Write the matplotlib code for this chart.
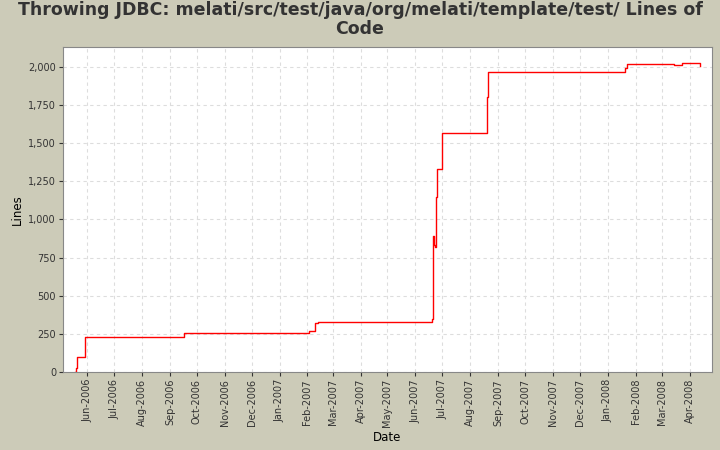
import matplotlib
matplotlib.use("Agg")
import matplotlib.pyplot as plt
import matplotlib.dates as mdates
import matplotlib.ticker as mticker
import pandas as pd

dates = ["2006-05-18","2006-05-19","2006-05-21","2006-05-30","2006-09-17","2007-02-03",
         "2007-02-09","2007-02-13","2007-05-09","2007-06-20","2007-06-21","2007-06-22",
         "2007-06-23","2007-06-24","2007-06-25","2007-07-01","2007-08-20","2007-08-21",
         "2008-01-20","2008-01-22","2008-03-15","2008-03-24","2008-04-12","2008-04-13"]
lines = [0,25,100,230,256,270,320,325,330,345,890,830,820,1150,1330,1570,1800,1970,
         1995,2020,2015,2025,2025,2005]

bg = "#cccbb8"
fig = plt.figure(figsize=(7.2,4.5), dpi=100, facecolor=bg)
ax = fig.add_axes([63/720, 1-372/450, (712-63)/720, (372-47)/450])
ax.step(pd.to_datetime(dates), lines, where="post", color="#ff0000", lw=1)
ax.set_xlim(pd.Timestamp("2006-05-05"), pd.Timestamp("2008-04-26"))
ax.set_ylim(0, 2131)
ax.yaxis.set_major_locator(mticker.MultipleLocator(250))
ax.yaxis.set_major_formatter(mticker.FuncFormatter(lambda v,p: f"{int(v):,}"))
ax.xaxis.set_major_locator(mdates.MonthLocator())
ax.xaxis.set_major_formatter(mdates.DateFormatter("%b-%Y"))
for t in ax.get_xticklabels():
    t.set_rotation(90)
ax.tick_params(labelsize=7, colors="#333333", length=3, pad=2)
ax.grid(True, color="#dddddd", ls=(0,(3,3)), lw=0.8)
for s in ax.spines.values():
    s.set_color("#888888")
ax.set_xlabel("Date", fontsize=8.5, labelpad=3)
ax.set_ylabel("Lines", fontsize=8.5, labelpad=3)
fig.suptitle("Throwing JDBC: melati/src/test/java/org/melati/template/test/ Lines of\nCode",
             fontsize=12.5, fontweight="bold", y=0.998, color="#333333", linespacing=1.05)
fig.savefig("out.png", dpi=100, facecolor=bg)
